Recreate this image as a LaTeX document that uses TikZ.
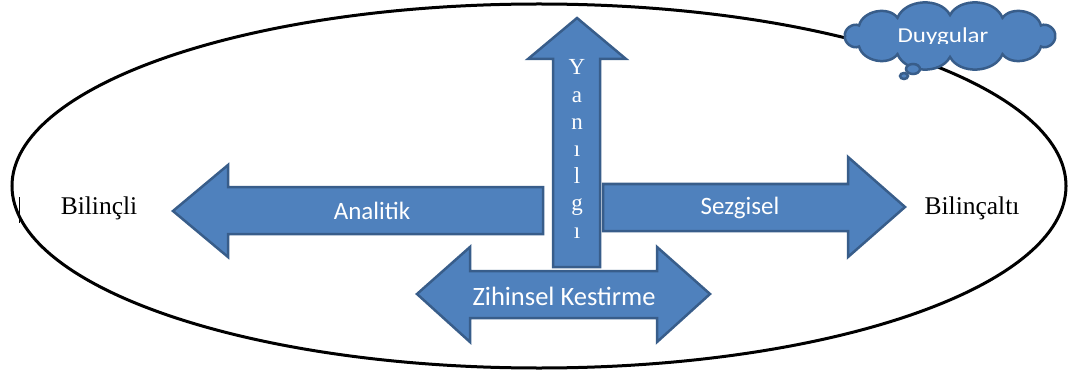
\documentclass[tikz,border=0pt]{standalone}
\usepackage{fontspec}
\newfontfamily\calibri{Carlito}
\newfontfamily\serifface{Liberation Serif}

\definecolor{arrowfill}{HTML}{4F81BD}
\definecolor{arrowline}{HTML}{385D8A}
\tikzset{
  bigarrow/.style={draw=arrowline, fill=arrowfill, line width=2.5pt, line join=miter},
  lbl/.style={text=white, font=\calibri\fontsize{25}{30}\selectfont},
  side/.style={font=\serifface\fontsize{25.5}{30}\selectfont}
}

\begin{document}
\begin{tikzpicture}[x=1pt, y=-1pt]
\useasboundingbox (0,0) rectangle (1075,374);

\draw[line width=3pt] (539,186) ellipse [x radius=527, y radius=182];

\foreach \a [count=\i from 0] in {0,30,...,360}
  \coordinate (p\i) at ({950+105*cos(\a)},{36+21*sin(\a)});
\draw[bigarrow] (p0) \foreach \i in {1,...,12} { to[bend left=65] (p\i) } -- cycle;
\draw[bigarrow] (913,69) ellipse [x radius=7, y radius=5];
\draw[bigarrow] (904,76) ellipse [x radius=4, y radius=3];
\begin{scope}
  \clip (860,8) rectangle (1045,44);
  \node[lbl, anchor=base, yscale=0.85, transform shape] (duygu) at (943,43) {Duygular};
\end{scope}

\draw[bigarrow] (173,211) -- (228,165) -- (228,187) -- (543,187)
    -- (543,234) -- (228,234) -- (228,257) -- cycle;
\node[lbl] (analitik) at (372,211) {Analitik};

\draw[bigarrow] (577,18) -- (626,59) -- (600,59) -- (600,267)
    -- (553,267) -- (553,59) -- (528,59) -- cycle;
\node[text=white, font=\serifface\fontsize{23}{27.2}\selectfont, align=center] (yanilgi)
    at (577,149) {Y\\a\\n\\ı\\l\\g\\ı};

\draw[bigarrow] (603,184) -- (848,184) -- (848,157) -- (905,207)
    -- (848,257) -- (848,231) -- (603,231) -- cycle;
\node[lbl] (sezgisel) at (740,208) {Sezgisel};

\draw[bigarrow] (417,294) -- (470,247) -- (470,271) -- (657,271)
    -- (657,247) -- (710,294) -- (657,342) -- (657,318)
    -- (470,318) -- (470,342) -- cycle;
\node[lbl, font=\calibri\fontsize{26.5}{30}\selectfont] (zihinsel) at (564,296) {Zihinsel Kestirme};

\node[side] (bilincli) at (99,208) {Bilinçli};
\node[side] (bilincalti) at (972,208) {Bilinçaltı};
\draw[line width=1.2pt] (19.5,197) -- (19.5,223);

\end{tikzpicture}
\end{document}
